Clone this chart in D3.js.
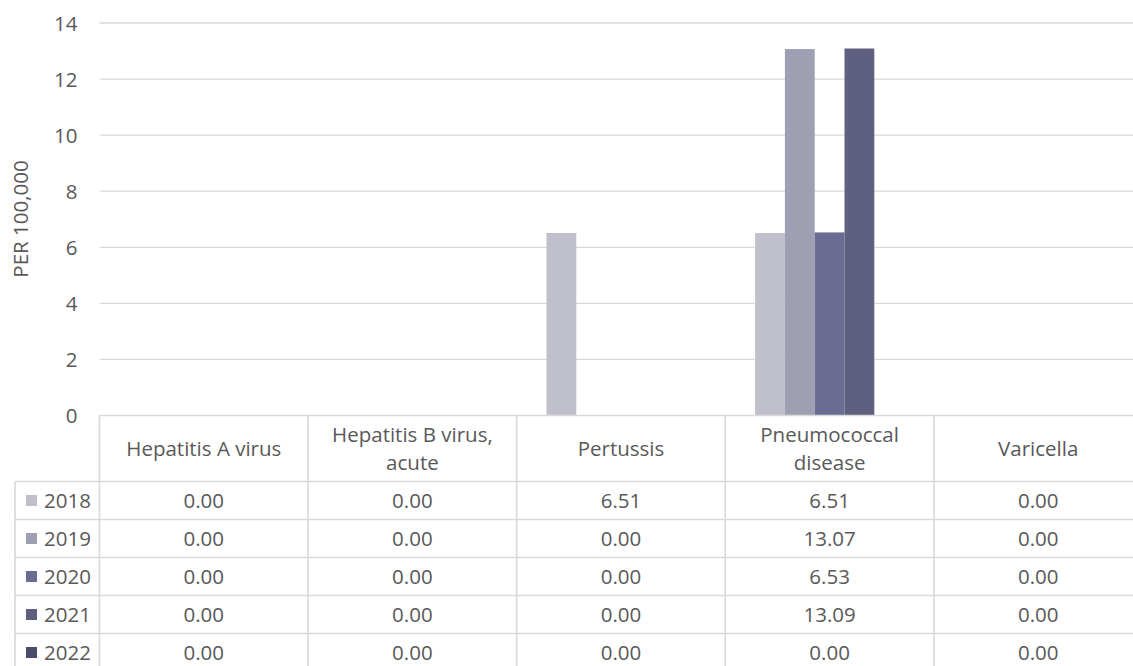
<!DOCTYPE html>
<html><head><meta charset="utf-8">
<script src="https://cdn.jsdelivr.net/npm/d3@7"></script>
<style>body{margin:0;background:#fff;} svg{display:block;font-family:"Open Sans",sans-serif;}</style>
</head><body><svg id="c" width="1133" height="666"></svg>
<script>
const categories = ["Hepatitis A virus", "Hepatitis B virus, acute", "Pertussis", "Pneumococcal disease", "Varicella"];
const categoryLines = [["Hepatitis A virus"], ["Hepatitis B virus,", "acute"], ["Pertussis"], ["Pneumococcal", "disease"], ["Varicella"]];
const years = ["2018", "2019", "2020", "2021", "2022"];
const v2018 = [0.00, 0.00, 6.51, 6.51, 0.00];
const v2019 = [0.00, 0.00, 0.00, 13.07, 0.00];
const v2020 = [0.00, 0.00, 0.00, 6.53, 0.00];
const v2021 = [0.00, 0.00, 0.00, 13.09, 0.00];
const v2022 = [0.00, 0.00, 0.00, 0.00, 0.00];
const seriesValues = [v2018, v2019, v2020, v2021, v2022];
const colors = ["#c0c0cc", "#9e9fb2", "#6b6c91", "#5f5f80", "#4b4b6b"];
const yTicks = [0, 2, 4, 6, 8, 10, 12, 14];
const yTitle = "PER 100,000";

const svg = d3.select("#c");
const pLeft = 99.5, pRight = 1142.5, gridRight = 1133, pTop = 23, pBottom = 415.5;
const textColor = "#595959", gridColor = "#d9d9d9";
const fs = 20.5;

const x = d3.scaleBand().domain(categories).range([pLeft, pRight]).paddingInner(0).paddingOuter(0);
const y = d3.scaleLinear().domain([0, 14]).range([pBottom, pTop]);
const xs = d3.scaleBand().domain(years).range([x.bandwidth() / 7, x.bandwidth() * 6 / 7]).padding(0);

// gridlines
svg.append("g").selectAll("line").data(yTicks.filter(t => t > 0)).join("line")
  .attr("x1", pLeft).attr("x2", gridRight).attr("y1", d => y(d)).attr("y2", d => y(d))
  .attr("stroke", gridColor).attr("stroke-width", 1.3);

// y axis labels
const yAxis = svg.append("g").attr("transform", `translate(${pLeft - 22},0)`)
  .call(d3.axisLeft(y).tickValues(yTicks).tickSize(0).tickPadding(0));
yAxis.select(".domain").remove();
yAxis.selectAll("text").attr("fill", textColor).attr("font-size", fs).attr("font-family", "Open Sans").attr("dy", "0.35em");

svg.append("text").attr("transform", `translate(28,219) rotate(-90)`)
  .attr("text-anchor", "middle").attr("fill", textColor).attr("font-size", 20.5).text(yTitle);

// bars
const g = svg.append("g");
years.forEach((yr, i) => {
  g.append("g").selectAll("rect").data(seriesValues[i].map((v, j) => ({v, c: categories[j]}))).join("rect")
    .attr("x", d => x(d.c) + xs(yr)).attr("width", xs.bandwidth())
    .attr("y", d => y(d.v)).attr("height", d => y(0) - y(d.v))
    .attr("fill", colors[i]);
});

// data table
const rowH = 38, headerBottom = 481.5;
const tbl = svg.append("g");
const lineAttr = s => s.attr("stroke", gridColor).attr("stroke-width", 1.6);
lineAttr(tbl.append("line").attr("x1", pLeft).attr("x2", pRight).attr("y1", pBottom).attr("y2", pBottom));
lineAttr(tbl.append("line").attr("x1", 15).attr("x2", pRight).attr("y1", headerBottom).attr("y2", headerBottom));
years.forEach((yr, i) => {
  const yy = headerBottom + rowH * (i + 1);
  lineAttr(tbl.append("line").attr("x1", 15).attr("x2", pRight).attr("y1", yy).attr("y2", yy));
});
const bounds = categories.map(c => x(c)).concat([pRight]);
bounds.forEach(b => lineAttr(tbl.append("line").attr("x1", b).attr("x2", b).attr("y1", pBottom).attr("y2", 666)));
lineAttr(tbl.append("line").attr("x1", 15).attr("x2", 15).attr("y1", headerBottom).attr("y2", 666));

categories.forEach((c, j) => {
  const lines = categoryLines[j];
  const cy = (pBottom + headerBottom) / 2;
  const lh = 28;
  lines.forEach((ln, k) => {
    tbl.append("text").attr("x", x(c) + x.bandwidth() / 2)
      .attr("y", cy + (k - (lines.length - 1) / 2) * lh).attr("dy", "0.35em")
      .attr("text-anchor", "middle").attr("fill", textColor).attr("font-size", fs).text(ln);
  });
});

years.forEach((yr, i) => {
  const cy = headerBottom + rowH * i + rowH / 2;
  tbl.append("rect").attr("x", 26).attr("y", cy - 5.5).attr("width", 11).attr("height", 11).attr("fill", colors[i]);
  tbl.append("text").attr("x", 44).attr("y", cy).attr("dy", "0.35em").attr("fill", textColor).attr("font-size", fs).text(yr);
  seriesValues[i].forEach((v, j) => {
    tbl.append("text").attr("x", x(categories[j]) + x.bandwidth() / 2).attr("y", cy).attr("dy", "0.35em")
      .attr("text-anchor", "middle").attr("fill", textColor).attr("font-size", fs).text(v.toFixed(2));
  });
});
</script></body></html>
